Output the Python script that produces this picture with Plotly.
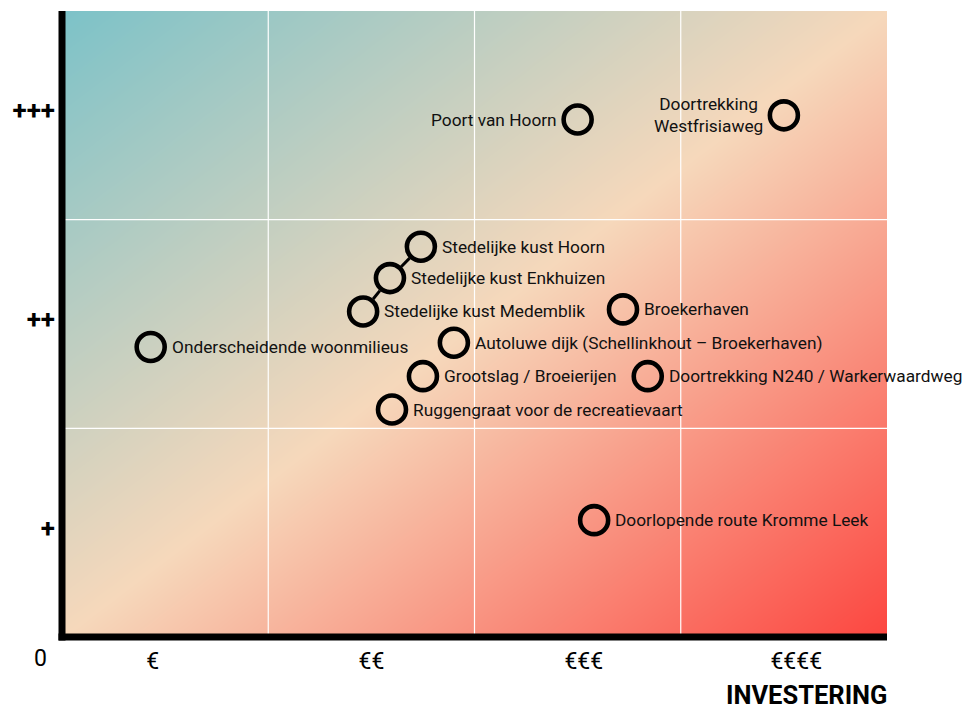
import numpy as np
import plotly.graph_objects as go

# Projects: investment level (x) against impact (y)
projects = [
    "Poort van Hoorn",
    "Doortrekking<br>Westfrisiaweg",
    "Stedelijke kust Hoorn",
    "Stedelijke kust Enkhuizen",
    "Stedelijke kust Medemblik",
    "Broekerhaven",
    "Onderscheidende woonmilieus",
    "Autoluwe dijk (Schellinkhout – Broekerhaven)",
    "Grootslag / Broeierijen",
    "Doortrekking N240 / Warkerwaardweg",
    "Ruggengraat voor de recreatievaart",
    "Doorlopende route Kromme Leek",
]
investment = [2.50, 3.50, 1.74, 1.59, 1.46, 2.72, 0.43, 1.90, 1.75, 2.84, 1.60, 2.58]
impact = [2.48, 2.50, 1.87, 1.72, 1.56, 1.57, 1.39, 1.41, 1.25, 1.25, 1.09, 0.56]
label_side = ["left", "left", "right", "right", "right", "right",
              "right", "right", "right", "right", "right", "right"]

# Linked coastal projects, drawn as a chain
coast_chain = ["Stedelijke kust Hoorn", "Stedelijke kust Enkhuizen", "Stedelijke kust Medemblik"]

x_tick_vals = [0.44, 1.50, 2.53, 3.56]
x_tick_text = ["€", "€€", "€€€", "€€€€"]
y_tick_vals = [0.525, 1.525, 2.525]
y_tick_text = ["+", "++", "+++"]
x_grid = [1, 2, 3]
y_grid = [1, 2]

X_MAX, Y_MAX = 4, 3
W, H = 962, 710
M_L, M_R, M_T, M_B = 62, 75, 11, 73
plot_w = W - M_L - M_R
plot_h = H - M_T - M_B

FONT = "Roboto"

fig = go.Figure()

# Diagonal background shading: teal (top-left) -> peach -> red (bottom-right)
gx = np.linspace(0, X_MAX, 81)
gy = np.linspace(0, Y_MAX, 61)
gz = 0.5 * (gx[None, :] / X_MAX + (Y_MAX - gy[:, None]) / Y_MAX)
fig.add_trace(go.Heatmap(
    x=gx, y=gy, z=gz, zmin=0, zmax=1, zsmooth="best",
    colorscale=[[0.0, "#7cc2c8"], [0.5, "#f6d8bb"], [1.0, "#fc4640"]],
    showscale=False, hoverinfo="skip",
))

# Connector between the linked coastal projects, trimmed at the circle edges
px_x = plot_w / X_MAX
px_y = plot_h / Y_MAX
r_px = 16
lx, ly = [], []
for a, b in zip(coast_chain[:-1], coast_chain[1:]):
    ia, ib = projects.index(a), projects.index(b)
    xa, ya = investment[ia], impact[ia]
    xb, yb = investment[ib], impact[ib]
    dx, dy = (xb - xa) * px_x, (yb - ya) * px_y
    L = float(np.hypot(dx, dy))
    ux, uy = dx / L, dy / L
    lx += [xa + ux * r_px / px_x, xb - ux * r_px / px_x, None]
    ly += [ya + uy * r_px / px_y, yb - uy * r_px / px_y, None]
fig.add_trace(go.Scatter(
    x=lx, y=ly, mode="lines", line=dict(color="black", width=3),
    hoverinfo="skip", showlegend=False,
))

# Project markers
fig.add_trace(go.Scatter(
    x=investment, y=impact, mode="markers",
    marker=dict(symbol="circle", size=28, color="rgba(0,0,0,0)",
                line=dict(color="black", width=4.6)),
    text=projects, hoverinfo="text", showlegend=False,
))

# Project labels
for name, x, y, side in zip(projects, investment, impact, label_side):
    fig.add_annotation(
        x=x, y=y, text=name, showarrow=False,
        xanchor="left" if side == "right" else "right",
        xshift=19 if side == "right" else -19,
        yanchor="middle", align="center",
        font=dict(family=FONT, size=17.3, color="#111111"),
    )

# White grid lines over the shading
shapes = []
for gxv in x_grid:
    shapes.append(dict(type="line", xref="x", yref="y", x0=gxv, x1=gxv, y0=0, y1=Y_MAX,
                       line=dict(color="white", width=1.2), layer="above"))
for gyv in y_grid:
    shapes.append(dict(type="line", xref="x", yref="y", x0=0, x1=X_MAX, y0=gyv, y1=gyv,
                       line=dict(color="white", width=1.2), layer="above"))
# Heavy black axes
shapes.append(dict(type="line", xref="paper", yref="paper", x0=0, x1=0,
                   y0=-3.5 / plot_h, y1=1, line=dict(color="black", width=7), layer="above"))
shapes.append(dict(type="line", xref="paper", yref="paper", x0=-3.5 / plot_w, x1=1,
                   y0=0, y1=0, line=dict(color="black", width=7), layer="above"))

# Origin label and axis title
fig.add_annotation(x=-22 / plot_w, y=-21 / plot_h, xref="paper", yref="paper",
                   text="0", showarrow=False, xanchor="center", yanchor="middle",
                   font=dict(family=FONT, size=23, color="black"))
fig.add_annotation(x=1, y=-58 / plot_h, xref="paper", yref="paper", xshift=2,
                   text="INVESTERING", showarrow=False, xanchor="right", yanchor="middle",
                   font=dict(family=FONT, size=25.5, color="black", weight=700))

fig.update_layout(
    width=W, height=H,
    margin=dict(l=M_L, r=M_R, t=M_T, b=M_B, pad=0),
    paper_bgcolor="white", plot_bgcolor="white",
    showlegend=False,
    shapes=shapes,
    xaxis=dict(range=[0, X_MAX], showgrid=False, zeroline=False, showline=False,
               tickvals=x_tick_vals, ticktext=x_tick_text, ticks="",
               ticklabelstandoff=8,
               tickfont=dict(family=FONT, size=23, color="black"), fixedrange=True),
    yaxis=dict(range=[0, Y_MAX], showgrid=False, zeroline=False, showline=False,
               tickvals=y_tick_vals, ticktext=y_tick_text, ticks="",
               ticklabelstandoff=6,
               tickfont=dict(family=FONT, size=26, color="black", weight=700), fixedrange=True),
)

fig.write_html("out.html")
